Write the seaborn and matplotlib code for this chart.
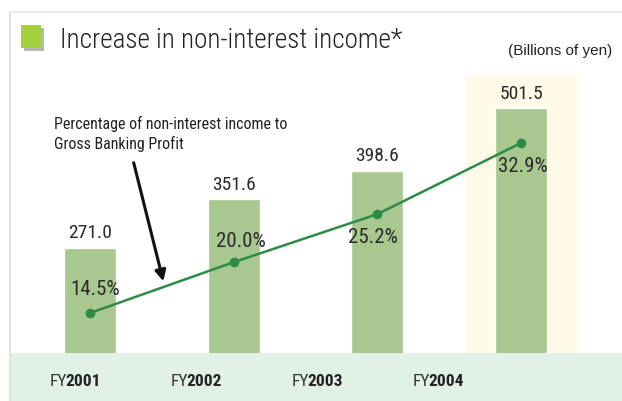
import matplotlib.pyplot as plt
import matplotlib.patches as mpatches
import pandas as pd
import seaborn as sns

# Chart data
years = ['2001', '2002', '2003', '2004']
income = [271.0, 351.6, 398.6, 501.5]          # billions of yen
ratio = [14.5, 20.0, 25.2, 32.9]               # % of gross banking profit
ratio_labels = ['14.5%', '20.0%', '25.2%', '32.9%']
# label offsets (points) and vertical alignment for the percentage labels
ratio_offsets = [(4, 10, 'bottom'), (5, 8, 'bottom'), (-3, -10, 'top'), (1, -10, 'top')]

df = pd.DataFrame({'year': years, 'income': income, 'ratio': ratio, 'pos': range(len(years))})

sns.set_theme(style='white')
plt.rcParams['font.family'] = ['Roboto Condensed', 'Barlow Condensed', 'DejaVu Sans']

W, H = 622, 401
fig = plt.figure(figsize=(W / 100, H / 100), dpi=100)
fig.patch.set_facecolor('white')

# panel frame / shadow
fig.add_artist(plt.Line2D([10 / W, 10 / W], [0, 1 - 12 / H], color='#dcdcdc', lw=1.2))
fig.add_artist(plt.Line2D([10 / W, 1], [1 - 12 / H, 1 - 12 / H], color='#e8e8e8', lw=1.2))

# bottom band
fig.add_artist(mpatches.Rectangle((10 / W, 0), 1 - 10 / W, 48 / H, color='#e1f1e6', lw=0, zorder=0))

bar_color = '#a8c890'
line_color = '#2e8b47'
text_color = '#2a2a2a'

# main axes
ax = fig.add_axes([10 / W, 48 / H, 612 / W, (353 - 12) / H])
ax.patch.set_alpha(0)
sns.barplot(data=df, x='pos', y='income', color=bar_color, width=0.362,
            saturation=1, ax=ax, native_scale=True, zorder=2)
ax.set_xlim(-0.557, 3.703)
ax.set_ylim(98, 660)
ax.axis('off')

# FY2004 highlight
ax.axvspan(3 - 0.385, 3 + 0.39, ymin=0, ymax=(353 - 75) / 341, color='#fffbe8', zorder=0, lw=0)

for x, v in zip(df['pos'], income):
    ax.annotate(f'{v:.1f}', (x, v), xytext=(0, 4), textcoords='offset points',
                ha='center', va='bottom', fontsize=14, color=text_color)

# ratio line
ax2 = ax.twinx()
ax2.patch.set_alpha(0)
sns.lineplot(data=df, x='pos', y='ratio', color=line_color, lw=1.8, marker='o',
             markersize=7, markeredgewidth=0, ax=ax2, zorder=3)
ax2.set_ylim(10.17, 47.08)
ax2.set_xlim(-0.557, 3.703)
ax2.axis('off')

for x, v, lab, (dx, dy, va) in zip(df['pos'], ratio, ratio_labels, ratio_offsets):
    ax2.annotate(lab, (x, v), xytext=(dx, dy), textcoords='offset points',
                 ha='center', va=va, fontsize=15, color=text_color)

# x labels (FY regular + year bold)
fy_x = [67, 188, 309, 430]
for px, yr in zip(fy_x, years):
    fig.text(px / W, 1 - 382 / H, 'FY', ha='right', va='center', fontsize=12.5, color='#333333')
    fig.text((px - 1.5) / W, 1 - 382 / H, yr, ha='left', va='center', fontsize=12.5,
             fontweight='bold', color='#222222')

# title with green square
fig.add_artist(mpatches.Rectangle((24 / W, 1 - 51 / H), 20 / W, 23 / H, color='#b5b5b5', lw=0))
fig.add_artist(mpatches.Rectangle((21 / W, 1 - 48 / H), 20 / W, 23 / H, color='#a5cf3c', lw=0))
fig.text(60 / W, 1 - 48 / H, 'Increase in non-interest income*', fontsize=19.5,
         fontweight='light', color='#222222', va='baseline')
fig.text(612 / W, 1 - 51 / H, '(Billions of yen)', fontsize=11, color='#222222',
         ha='right', va='center', family=['Liberation Sans', 'DejaVu Sans'])

# annotation with arrow
fig.text(54 / W, 1 - 116 / H, 'Percentage of non-interest income to\nGross Banking Profit',
         fontsize=11.5, color='#222222', va='top', linespacing=1.3)
fig.add_artist(mpatches.FancyArrowPatch((133 / W, 1 - 160 / H), (164 / W, 1 - 284 / H),
                                        transform=fig.transFigure, arrowstyle='-|>',
                                        mutation_scale=16, color='#111111', lw=2.2))

fig.savefig('out.png', dpi=100)
